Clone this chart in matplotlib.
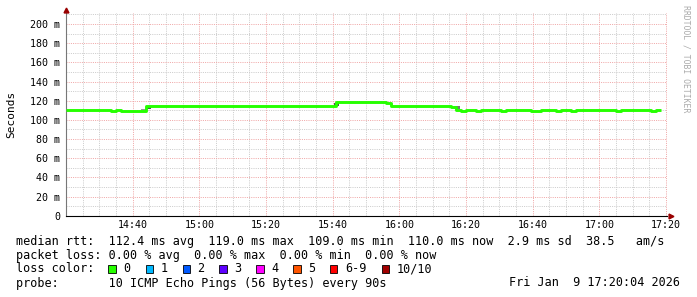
import matplotlib
matplotlib.use("Agg")
import matplotlib.pyplot as plt
import numpy as np

# ---- data ----
# step change points: minutes after 14:20, median rtt in ms
step_start_min = [0, 13.5, 15, 16.5, 24, 81, 96, 97.5, 115.5, 117, 118.5, 120,
                  123, 124.5, 130.5, 132, 139.5, 142.5, 147, 148.5, 151.5, 153,
                  165, 166.5, 175.5, 177, 178.5]
median_ms = [110.3, 109.2, 110.3, 109.3, 114.3, 119.0, 118.0, 114.3, 113.4, 110.0,
             109.0, 110.0, 109.0, 110.0, 109.0, 110.0, 109.0, 110.0, 109.0, 110.0,
             109.0, 110.0, 109.0, 110.0, 109.0, 110.0, 110.0]
# smoke patches (min start, min end, low ms, high ms, shade)
smoke_t0 = [22.5, 24.0, 80.5, 116.4]
smoke_t1 = [24.0, 25.5, 82.0, 118.2]
smoke_lo = [110.0, 111.0, 114.5, 111.0]
smoke_hi = [111.0, 114.5, 117.5, 114.0]
smoke_col = ["#999999", "#555555", "#555555", "#777777"]

x_tick_min = [20, 40, 60, 80, 100, 120, 140, 160, 180]
x_tick_labels = ["14:40", "15:00", "15:20", "15:40", "16:00", "16:20", "16:40", "17:00", "17:20"]
y_ticks = [0, 20, 40, 60, 80, 100, 120, 140, 160, 180, 200]
y_tick_labels = ["0", "20 m", "40 m", "60 m", "80 m", "100 m", "120 m", "140 m", "160 m", "180 m", "200 m"]

loss_labels = ["0", "1", "2", "3", "4", "5", "6-9", "10/10"]
loss_colors = ["#26ff00", "#00b8ff", "#0059ff", "#5e00ff", "#ff00ff", "#ff5500", "#ff0000", "#a10000"]

legend_lines = [
    "median rtt:  112.4 ms avg  119.0 ms max  109.0 ms min  110.0 ms now  2.9 ms sd  38.5   am/s",
    "packet loss: 0.00 % avg  0.00 % max  0.00 % min  0.00 % now",
    "loss color:",
    "probe:       10 ICMP Echo Pings (56 Bytes) every 90s",
]
date_text = "Fri Jan  9 17:20:04 2026"

# ---- figure ----
W, H = 697, 297
fig = plt.figure(figsize=(W / 100, H / 100), dpi=100)
fig.patch.set_facecolor("white")
mono = "DejaVu Sans Mono"

ax_l, ax_r, ax_t, ax_b = 66, 667, 13.3, 215.7
ax = fig.add_axes([ax_l / W, 1 - ax_b / H, (ax_r - ax_l) / W, (ax_b - ax_t) / H])
xmax = 180 * (ax_r - ax_l) / 600.0
ax.set_xlim(0, xmax)
ax.set_ylim(0, 200 * (ax_b - ax_t) / 191.7)

# grid
dot = (0, (1, 1.2))
for m in np.arange(5, xmax, 5):
    if m % 20 == 0:
        continue
    ax.axvline(m, color="#cccccc", lw=0.72, ls=dot, zorder=1)
for v in np.arange(10, 211, 20):
    ax.axhline(v, color="#cccccc", lw=0.72, ls=dot, zorder=1)
for m in x_tick_min:
    ax.axvline(m, color="#f0a8a8", lw=0.72, ls=dot, zorder=1.1)
for v in y_ticks[1:]:
    ax.axhline(v, color="#f0a8a8", lw=0.72, ls=dot, zorder=1.1)

# smoke
for t0, t1, lo, hi, c in zip(smoke_t0, smoke_t1, smoke_lo, smoke_hi, smoke_col):
    ax.fill_between([t0, t1], [lo, lo], [hi, hi], color=c, lw=0, zorder=2)

# median line
ax.step(step_start_min, median_ms, where="post", color="#26ff00", lw=2.1, zorder=3,
        solid_capstyle="butt")

ax.set_xticks(x_tick_min)
ax.set_xticklabels(x_tick_labels, family=mono, fontsize=7.2)
ax.set_yticks(y_ticks)
ax.set_yticklabels(y_tick_labels, family=mono, fontsize=7.2)
ax.tick_params(axis="both", length=0, pad=4, colors="black")
ax.tick_params(axis="x", pad=3)
for s in ["top", "right"]:
    ax.spines[s].set_visible(False)
ax.spines["left"].set_color("#777777")
ax.spines["left"].set_linewidth(0.8)
ax.spines["bottom"].set_color("black")
ax.spines["bottom"].set_linewidth(0.8)
ax.spines["bottom"].set_bounds(0, xmax)
ax.set_facecolor("white")

# arrows
fig.add_artist(plt.Line2D([ax_l / W], [1 - 9.5 / H], marker="^", color="#990000",
                          markersize=3.5, transform=fig.transFigure))
fig.add_artist(plt.Line2D([671 / W], [1 - ax_b / H], marker=">", color="#990000",
                          markersize=3.5, transform=fig.transFigure))

# y label
fig.text(11 / W, 1 - 114 / H, "Seconds", rotation=90, family=mono, fontsize=8,
         ha="center", va="center")
# watermark
fig.text(686 / W, 1 - 5 / H, "RRDTOOL / TOBI OETIKER", rotation=270, family=mono,
         fontsize=5.9, color="#aaaaaa", ha="center", va="top")

# legend text
ys = [241, 255, 269, 283]
fs = 8.45
for line, y in zip(legend_lines, ys):
    fig.text(16 / W, 1 - y / H, line, family=mono, fontsize=fs, ha="left", va="center")
fig.text(680 / W, 1 - 283 / H, date_text, family=mono, fontsize=fs, ha="right", va="center")

# loss color boxes
box_x = [108.3, 145.7, 182.7, 219.3, 256.3, 293.3, 330, 381.7]
for bx, lab, c in zip(box_x, loss_labels, loss_colors):
    fig.add_artist(plt.Rectangle((bx / W, 1 - 272.5 / H), 7.2 / W, 7.2 / H, facecolor=c,
                                 edgecolor="black", lw=0.6, transform=fig.transFigure))
    fig.text((bx + 14.8) / W, 1 - 269 / H, lab, family=mono, fontsize=fs,
             ha="left", va="center")

fig.savefig("out.png", dpi=100, facecolor="white")
